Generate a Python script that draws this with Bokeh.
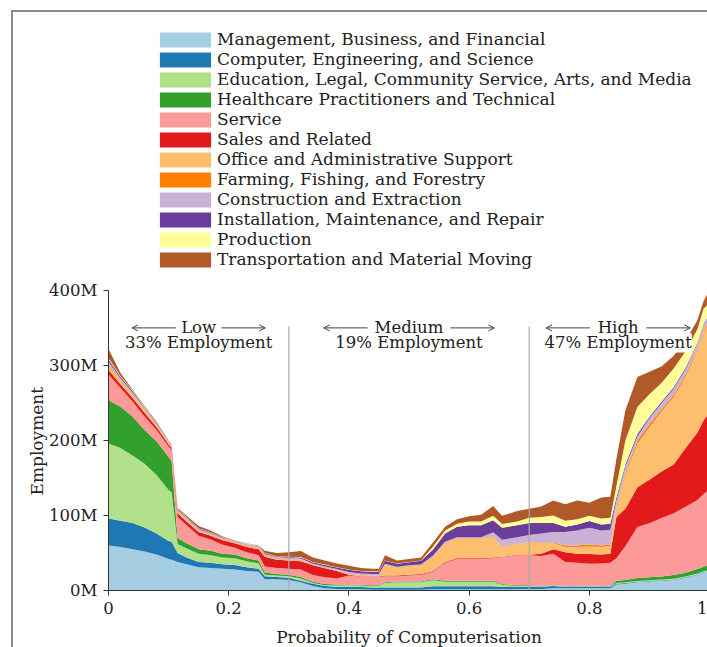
import math
from bokeh.plotting import figure
from bokeh.models import (ColumnDataSource, Legend, LegendItem, Label, Arrow,
                          OpenHead, FixedTicker, Range1d, Title, LinearAxis)
from bokeh.embed import file_html
from bokeh.resources import INLINE

# ---------------- data (employment in millions) ----------------
prob = [0.00, 0.02, 0.04, 0.06, 0.08, 0.10, 0.105, 0.115, 0.13, 0.15,
        0.17, 0.19, 0.21, 0.23, 0.25, 0.26, 0.28, 0.30, 0.32, 0.34,
        0.36, 0.38, 0.40, 0.42, 0.44, 0.45, 0.46, 0.48, 0.50, 0.52,
        0.54, 0.56, 0.58, 0.60, 0.62, 0.64, 0.655, 0.68, 0.70, 0.72,
        0.74, 0.76, 0.78, 0.80, 0.82, 0.835, 0.845, 0.86, 0.88, 0.90,
        0.92, 0.94, 0.96, 0.98, 0.99, 1.00]

management = [60, 58, 55, 52, 48, 42, 41, 38, 35, 31,
              30, 29, 28, 26, 25, 15, 15, 14, 11, 6,
              3, 2, 2, 1.5, 1, 1, 1, 1, 1, 1,
              1.5, 1.5, 1.5, 1.5, 1.5, 1.5, 1.5, 2, 2, 2,
              3, 3, 3, 3, 3, 3, 8, 9, 11, 12,
              13, 14, 17, 21, 24, 26]
computer = [36, 35, 35, 32, 28, 24, 24, 12, 9, 7,
            7, 6, 6, 5, 4, 4, 3, 3, 2, 3,
            3, 3, 3, 3, 3, 3, 3, 3, 3, 3,
            4, 4, 4, 4, 4, 4, 3, 3, 3, 3,
            3, 2, 2, 2, 2, 2, 1, 1, 0.5, 0.5,
            0.5, 0.5, 0.5, 0.5, 0.5, 0.5]
education = [100, 97, 90, 85, 78, 68, 66, 12, 12, 11,
             10, 9, 9, 8, 7, 2, 2, 2, 3, 1,
             1, 1.5, 2, 2, 2, 2, 6, 7, 7, 7,
             8, 6, 6, 6, 6, 6, 3, 1, 1, 0.5,
             0.5, 0.5, 0.5, 0.5, 0.5, 0.5, 1, 1, 1, 1,
             1, 1, 1, 1, 1, 1]
healthcare = [58, 55, 52, 45, 45, 44, 42, 8, 7, 6,
              6, 5, 5, 4, 4, 3, 2, 2, 2, 1.5,
              1.5, 1.5, 1, 1, 1, 1, 1, 1, 1, 1,
              1.5, 1.5, 1.5, 1.5, 1.5, 1.5, 1, 1, 1, 0.5,
              0.5, 0.5, 0.5, 1, 0.5, 0.5, 3, 3, 4, 4,
              4, 5, 5, 6, 6, 7]
service = [34, 25, 20, 18, 15, 14, 14, 28, 24, 18,
           15, 12, 9, 8, 7, 8, 8, 8, 10, 9,
           9, 8, 12, 11, 11, 11, 8, 7, 8, 9,
           10, 24, 29, 29, 29, 30, 36, 40, 40, 40,
           42, 32, 31, 29, 30, 31, 30, 45, 68, 72,
           78, 82, 88, 92, 97, 100]
sales = [6, 5, 5, 5, 4, 3, 3, 5, 5, 5,
         5, 6, 6, 7, 8, 13, 11, 11, 11, 13,
         12, 10, 1, 0.5, 0.5, 0.5, 1, 1, 1, 1,
         1, 1, 1, 1, 1, 1, 0.5, 0.5, 0.5, 3,
         6, 13, 12, 13, 12, 12, 55, 50, 53, 58,
         62, 65, 78, 90, 98, 103]
office = [5, 4, 3, 3, 2, 2, 2, 2, 1.5, 1,
          1, 1, 1, 1, 1, 1, 1, 1, 1, 0.5,
          0.5, 0.5, 1, 1, 1, 1, 14, 10, 11, 11,
          19, 25, 26, 26, 26, 28, 13, 14, 17, 14,
          8, 7, 9, 10, 10, 10, 12, 45, 58, 70,
          80, 90, 95, 110, 118, 120]
farming = [2, 1, 1, 1, 0.5, 0.5, 0.5, 0.5, 0.5, 0.5,
           0.5, 0.5, 0.5, 0.5, 0.5, 0.5, 0.5, 0.5, 0.5, 0.5,
           0.5, 0.5, 0.5, 0.5, 0.5, 0.5, 0.5, 0.5, 0.5, 0.5,
           0.5, 0.5, 0.5, 0.5, 0.5, 0.5, 0.5, 0.5, 0.5, 1,
           1, 2, 2, 3, 2, 2, 2, 3, 4, 4,
           3, 3, 3, 2, 2, 2]
construction = [4, 3, 3, 2, 2, 1.5, 1.5, 2, 2, 2,
                2, 1.5, 1.5, 2, 2, 2, 2, 2, 2, 1.5,
                1.5, 1.5, 2, 2, 2, 2, 1, 1, 1, 1,
                1, 1.5, 1.5, 1.5, 1.5, 5, 9, 9, 9, 12,
                14, 18, 20, 22, 20, 20, 8, 8, 6, 8,
                8, 8, 7, 7, 8, 8]
installation = [3, 2, 2, 1, 1, 0.5, 0.5, 1, 1, 1,
                1, 0.5, 0.5, 0.5, 0.5, 1, 1, 1, 1.5, 1.5,
                2, 2, 3, 3, 3, 3, 4, 4, 4, 5,
                8, 11, 14, 16, 16, 16, 16, 16, 16, 14,
                12, 7, 8, 9, 8, 8, 4, 3, 3, 2,
                2, 2, 2, 1, 1, 1]
production = [2, 1, 1, 1, 0.5, 0.5, 0.5, 0.5, 0.5, 0.5,
              0.5, 0.5, 0.5, 0.5, 0.5, 0.5, 0.5, 0.5, 0.5, 0.5,
              0.5, 0.5, 0.5, 0.5, 0.5, 0.5, 0.5, 0.5, 0.5, 0.5,
              4, 4, 4, 5, 5, 6, 5, 5, 7, 8,
              10, 8, 7, 7, 8, 8, 15, 32, 36, 30,
              25, 25, 22, 18, 20, 15]
transportation = [12, 4, 1, 1, 1, 0, 0, 1, 2, 3,
                  2, 1, 0, 0.5, 0.5, 3, 4, 6, 8, 6,
                  5.5, 5, 5, 4, 3.5, 3.5, 7, 4, 4, 4,
                  5.5, 5, 6, 7, 9, 13, 11, 14, 12, 14,
                  20, 22, 25, 17.5, 28, 28, 36, 40, 40, 30,
                  22, 17, 14, 12, 10, 17]

categories = ["Management, Business, and Financial",
              "Computer, Engineering, and Science",
              "Education, Legal, Community Service, Arts, and Media",
              "Healthcare Practitioners and Technical",
              "Service",
              "Sales and Related",
              "Office and Administrative Support",
              "Farming, Fishing, and Forestry",
              "Construction and Extraction",
              "Installation, Maintenance, and Repair",
              "Production",
              "Transportation and Material Moving"]
colors = ["#a6cee3", "#1f78b4", "#b2df8a", "#33a02c", "#fb9a99", "#e31a1c",
          "#fdbf6f", "#ff7f00", "#cab2d6", "#6a3d9a", "#ffff99", "#b15928"]

region_bounds = [0.3, 0.7]
region_names = ["Low", "Medium", "High"]
region_shares = ["33% Employment", "19% Employment", "47% Employment"]
region_centers = [0.15, 0.5, 0.848]
arrow_gaps = [0.038, 0.069, 0.047]

x_ticks = [0, 0.2, 0.4, 0.6, 0.8, 1]
x_tick_labels = ["0", "0.2", "0.4", "0.6", "0.8", "1"]
y_ticks = [0, 100, 200, 300, 400]
y_tick_labels = ["0M", "100M", "200M", "300M", "400M"]

series = [management, computer, education, healthcare, service, sales,
          office, farming, construction, installation, production,
          transportation]
keys = ["s%d" % i for i in range(len(series))]
data = {"x": prob}
for k, s in zip(keys, series):
    data[k] = s
source = ColumnDataSource(data)

FONT = "DejaVu Serif"
TXT = "#222222"

p = figure(width=696, height=637, output_backend="svg", toolbar_location=None,
           x_range=Range1d(0, 1), y_range=Range1d(0, 753),
           min_border_left=95, min_border_right=0, min_border_top=13,
           min_border_bottom=57)
p.styles = {"border-left": "2px solid #8c8c8c", "border-top": "2px solid #8c8c8c",
            "position": "relative", "left": "11px", "top": "10px"}

renderers = p.varea_stack(stackers=keys, x="x", color=colors, source=source)

# region separators
p.segment(x0=region_bounds, y0=[0, 0], x1=region_bounds, y1=[352, 352],
          line_color="#aaaaaa", line_width=1.2)

# annotations
for cx, name, share, gap in zip(region_centers, region_names, region_shares, arrow_gaps):
    p.add_layout(Label(x=cx, y=330, text=share, text_align="center",
                       text_baseline="middle", text_font=FONT,
                       text_font_size="16.5px", text_color=TXT,
                       background_fill_color="white"))
    p.add_layout(Label(x=cx, y=350, text=name, text_align="center",
                       text_baseline="middle", text_font=FONT,
                       text_font_size="16.5px", text_color=TXT))
    for sgn in (-1, 1):
        p.add_layout(Arrow(end=OpenHead(size=6, line_width=1, line_color="#444444"),
                           x_start=cx + sgn * gap, y_start=350,
                           x_end=cx + sgn * (gap + 0.073), y_end=350,
                           line_width=1, line_color="#444444"))

# axes
p.xgrid.visible = False
p.ygrid.visible = False
p.outline_line_color = None
for ax in (p.xaxis[0], p.yaxis[0]):
    ax.axis_line_color = "#333333"
    ax.major_tick_line_color = "#333333"
    ax.minor_tick_line_color = None
    ax.major_tick_in = 0
    ax.major_tick_out = 5
    ax.major_label_text_font = FONT
    ax.major_label_text_font_size = "16.5px"
    ax.major_label_text_color = TXT
    ax.axis_label_text_font = FONT
    ax.axis_label_text_font_size = "17px"
    ax.axis_label_text_font_style = "normal"
    ax.axis_label_text_color = TXT

p.xaxis.ticker = FixedTicker(ticks=x_ticks)
p.xaxis.major_label_overrides = {t: l for t, l in zip(x_ticks, x_tick_labels)}
p.xaxis.bounds = (0, 1)
p.xaxis.axis_label = "Probability of Computerisation"
p.xaxis.axis_label_standoff = 10
p.xaxis.major_label_standoff = 6

p.yaxis.ticker = FixedTicker(ticks=y_ticks)
p.yaxis.major_label_overrides = {t: l for t, l in zip(y_ticks, y_tick_labels)}
p.yaxis.bounds = (0, 400)
p.yaxis.major_label_standoff = 6

# empty spacer axis, then the y title placed at the middle of the drawn axis
spacer = LinearAxis(ticker=FixedTicker(ticks=[]), axis_line_color=None,
                    major_tick_line_color=None, minor_tick_line_color=None,
                    major_tick_in=0, major_tick_out=13, major_label_standoff=0,
                    axis_label_standoff=0)
p.add_layout(spacer, "left")
ytitle = Title(text="Employment", align="left", offset=95, standoff=0,
               text_font=FONT, text_font_size="17px", text_color=TXT,
               text_font_style="normal")
p.add_layout(ytitle, "left")

items = [LegendItem(label=c, renderers=[r]) for c, r in zip(categories, renderers)]
legend = Legend(items=items, location=(45, 321), glyph_width=64, glyph_height=19,
                label_height=19, spacing=0, padding=0, margin=0, label_standoff=0,
                label_text_font=FONT, label_text_font_size="17px",
                label_text_color=TXT, border_line_alpha=0,
                background_fill_alpha=0)
p.add_layout(legend)

open("out.html", "w").write(file_html(p, INLINE))
